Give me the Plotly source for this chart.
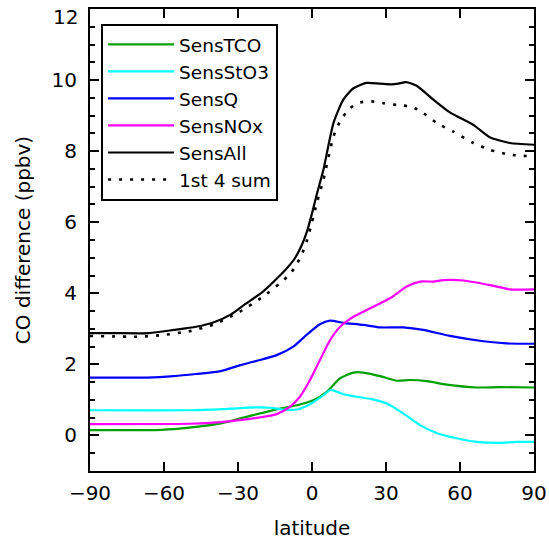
import plotly.graph_objects as go

# ---- data ----
lat_tco = [-90, -67, -56, -47, -37, -29, -21, -14, -6, 0.5, 6, 11.4, 16.8, 20.8, 27.6, 34.3, 39.7, 46.5, 54.6, 66.8, 76.2, 90]
sens_tco = [0.15, 0.15, 0.18, 0.24, 0.34, 0.48, 0.62, 0.74, 0.85, 0.99, 1.23, 1.61, 1.77, 1.77, 1.67, 1.54, 1.56, 1.53, 1.43, 1.35, 1.36, 1.35]

lat_sto3 = [-90, -50, -36, -22.4, -17, -11.6, -6.2, -0.8, 4.6, 7.6, 12.7, 18.1, 24.9, 30.3, 37, 43.8, 50.5, 58.6, 66.8, 74.9, 83, 90]
sens_sto3 = [0.71, 0.71, 0.74, 0.79, 0.78, 0.73, 0.73, 0.88, 1.13, 1.28, 1.16, 1.09, 1.01, 0.90, 0.62, 0.29, 0.07, -0.08, -0.18, -0.21, -0.18, -0.18]

lat_q = [-90, -67, -56, -47, -37, -29, -22.4, -14.3, -7.6, -2.2, 3.2, 7.3, 12.7, 20.8, 27.6, 37, 45.1, 55.9, 69.5, 78.9, 90]
sens_q = [1.63, 1.63, 1.67, 1.73, 1.81, 1.98, 2.10, 2.26, 2.50, 2.83, 3.13, 3.23, 3.17, 3.11, 3.04, 3.04, 2.97, 2.80, 2.65, 2.59, 2.58]

lat_nox = [-90, -50, -38.6, -29.2, -21.1, -14.3, -8.9, -4.9, -0.8, 3.2, 7.3, 11.4, 16.8, 22.2, 31.6, 38.4, 43.8, 49.2, 53.2, 61.4, 72.2, 80.3, 90]
sens_nox = [0.32, 0.33, 0.37, 0.43, 0.51, 0.60, 0.81, 1.09, 1.56, 2.12, 2.68, 3.06, 3.34, 3.53, 3.86, 4.19, 4.33, 4.33, 4.37, 4.36, 4.23, 4.11, 4.11]

lat_all = [-90, -80, -66, -56, -47, -40, -33, -27, -20, -13, -10, -7, -4, -2, 0, 2, 4.6, 8.7, 12.7, 16.8, 22, 27.6, 32.3, 35, 38.1, 42.4, 49.2, 55.9, 65.4, 72.1, 80.2, 90]
sens_all = [2.88, 2.88, 2.88, 2.97, 3.06, 3.18, 3.40, 3.70, 4.04, 4.50, 4.72, 4.98, 5.38, 5.75, 6.25, 6.80, 7.47, 8.79, 9.45, 9.77, 9.92, 9.90, 9.88, 9.90, 9.94, 9.84, 9.45, 9.09, 8.74, 8.39, 8.23, 8.18]

lat_sum = [-90, -70, -60, -50, -40, -30, -20, -13, -10, -7, -4, -2, 0, 2, 4.6, 8.7, 11.3, 15.4, 19.5, 24.2, 29, 34.4, 40.4, 45.2, 50.6, 57.3, 65.4, 72.1, 80.2, 90]
sum4 = [2.80, 2.78, 2.83, 2.93, 3.12, 3.45, 3.90, 4.28, 4.47, 4.72, 5.12, 5.50, 6.00, 6.55, 7.19, 8.41, 8.83, 9.21, 9.37, 9.40, 9.35, 9.30, 9.25, 9.07, 8.79, 8.55, 8.23, 8.04, 7.90, 7.85]

x_ticks = [-90, -60, -30, 0, 30, 60, 90]
x_ticklabels = ["\u221290", "\u221260", "\u221230", "0", "30", "60", "90"]
y_ticks = [0, 2, 4, 6, 8, 10, 12]
y_ticklabels = ["0", "2", "4", "6", "8", "10", ""]  # top label drawn below as annotation
y_top_label = "12"

series = [
    ("SensTCO", lat_tco, sens_tco, "#00A000", "solid"),
    ("SensStO3", lat_sto3, sens_sto3, "#00FFFF", "solid"),
    ("SensQ", lat_q, sens_q, "#0000FF", "solid"),
    ("SensNOx", lat_nox, sens_nox, "#FF00FF", "solid"),
    ("SensAll", lat_all, sens_all, "#000000", "solid"),
    ("1st 4 sum", lat_sum, sum4, "#000000", "3px,8px"),
]

FONT = "DejaVu Sans"
FS = 20

fig = go.Figure()
for name, xs, ys, col, dash in series:
    fig.add_trace(go.Scatter(
        x=xs, y=ys, mode="lines", name=name,
        line=dict(color=col, width=2.2 if dash == "solid" else 2.6, dash=dash,
                  shape="spline", smoothing=0.6),
    ))

axis_common = dict(
    showline=True, linecolor="black", linewidth=2, mirror="ticks",
    ticks="inside", tickcolor="black", tickwidth=1.5,
    showgrid=False, zeroline=False, automargin=False,
    tickfont=dict(family=FONT, size=FS, color="black"),
)

fig.update_xaxes(
    range=[-90, 90], tickvals=x_ticks, ticktext=x_ticklabels, ticklen=9,
    title=dict(text="latitude", font=dict(family=FONT, size=FS, color="black"), standoff=17),
    ticklabelstandoff=3,
    **axis_common,
)
fig.update_yaxes(
    range=[-1, 12], tickvals=y_ticks, ticktext=y_ticklabels, ticklen=9,
    minor=dict(dtick=0.5, ticks="inside", ticklen=5, tickcolor="black", tickwidth=1.5),
    title=dict(text="CO difference (ppbv)", font=dict(family=FONT, size=FS, color="black"), standoff=16),
    ticklabelstandoff=7,
    **axis_common,
)

fig.add_annotation(
    x=0, xref="paper", y=12, yref="y", text=y_top_label, showarrow=False,
    xanchor="right", yanchor="middle", xshift=-10, yshift=-8,
    font=dict(family=FONT, size=FS, color="black"),
)

fig.update_layout(
    width=549, height=540,
    margin=dict(l=90, r=15, t=9, b=69),
    paper_bgcolor="white", plot_bgcolor="white",
    showlegend=True,
    legend=dict(
        x=0.025, y=0.968, xanchor="left", yanchor="top",
        bgcolor="white", bordercolor="black", borderwidth=2,
        font=dict(family=FONT, size=18.5, color="black"),
        itemwidth=66, tracegroupgap=0,
    ),
)

fig.write_html("out.html", config={"displayModeBar": False},
               post_script="document.body.style.margin='0px';")
